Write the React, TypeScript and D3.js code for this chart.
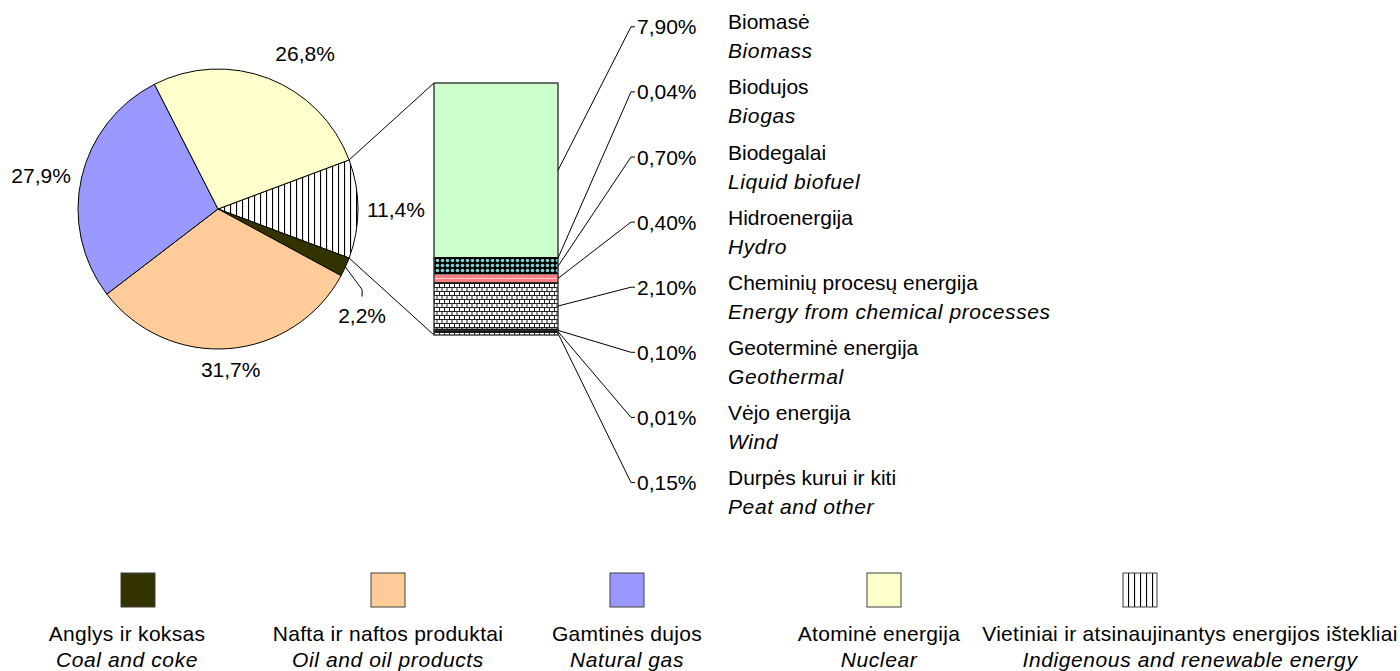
import React from 'react';
import * as d3 from 'd3';

// ---- Data ----
const mainCategories = ['Anglys ir koksas', 'Nafta ir naftos produktai', 'Gamtinės dujos', 'Atominė energija', 'Vietiniai ir atsinaujinantys energijos ištekliai'];
const mainCategoriesEn = ['Coal and coke', 'Oil and oil products', 'Natural gas', 'Nuclear', 'Indigenous and renewable energy'];
const mainValues = [2.2, 31.7, 27.9, 26.8, 11.4];
const mainLabels = ['2,2%', '31,7%', '27,9%', '26,8%', '11,4%'];

const subCategories = ['Biomasė', 'Biodujos', 'Biodegalai', 'Hidroenergija', 'Cheminių procesų energija', 'Geoterminė energija', 'Vėjo energija', 'Durpės kurui ir kiti'];
const subCategoriesEn = ['Biomass', 'Biogas', 'Liquid biofuel', 'Hydro', 'Energy from chemical processes', 'Geothermal', 'Wind', 'Peat and other'];
const subValues = [7.9, 0.04, 0.7, 0.4, 2.1, 0.1, 0.01, 0.15];
const subLabels = ['7,90%', '0,04%', '0,70%', '0,40%', '2,10%', '0,10%', '0,01%', '0,15%'];

// ---- Styles / layout ----
const mainFills = ['#333300', '#FFCC99', '#9999FF', '#FFFFCC', 'url(#pVlines)'];
const subFills = ['#CCFFCC', '#222222', 'url(#pDots)', 'url(#pStripes)', 'url(#pBrick)', '#333333', '#000000', 'url(#pGrid)'];
const labelAngleNudge = [12, 0, -2, 8, 0]; // degrees, per main slice
const labelRadialExtra = [5, 0, 0, 6, 0];
const legendBoxCenters = [138, 388, 627, 884, 1140];
const legendTextCenters = [127, 388, 627, 879, 1190];

const W = 1400, H = 671;
const FONT = "'Liberation Sans', Arial, sans-serif";
const FS = 21;
const cx = 218, cy = 209, R = 140;
const barX0 = 434, barX1 = 558, barTop = 83, barBottom = 335;
const pctX = 637, nameX = 728;

let _ctx: CanvasRenderingContext2D | null = null;
function textWidth(t: string, size = FS) {
  if (!_ctx) _ctx = document.createElement('canvas').getContext('2d');
  if (!_ctx) return t.length * size * 0.55;
  _ctx.font = `${size}px ${FONT}`;
  return _ctx.measureText(t).width;
}

export default function App() {
  const order = [4, 0, 1, 2, 3];
  const total = d3.sum(mainValues);
  const start = Math.PI / 2 - (mainValues[4] / total) * Math.PI;
  const pie = d3.pie<number>().sort(null).value((i) => mainValues[i]).startAngle(start).endAngle(start + 2 * Math.PI);
  const arcs = pie(order);
  const arc = d3.arc<d3.PieArcDatum<number>>().innerRadius(0).outerRadius(R);

  const polar = (ang: number, rad: number): [number, number] => [cx + Math.sin(ang) * rad, cy - Math.cos(ang) * rad];

  const renewArc = arcs[0];
  const cornerTop = polar(renewArc.startAngle, R);
  const cornerBot = polar(renewArc.endAngle, R);

  const subTotal = d3.sum(subValues);
  const y = d3.scaleLinear().domain([0, subTotal]).range([barTop, barBottom]);
  const cum = d3.cumsum(subValues);
  const segs = subValues.map((v, i) => ({ v, i, y0: y(cum[i] - v), y1: y(cum[i]) }));

  const nameY = d3.scalePoint<string>().domain(subCategories).range([29.3, 485]);

  return (
    <svg width={W} height={H} style={{ position: 'absolute', left: 0, top: 0, background: '#fff' }} fontFamily={FONT} fontSize={FS}>
      <defs>
        <pattern id="pVlines" patternUnits="userSpaceOnUse" width={6} height={10}>
          <rect width={6} height={10} fill="#fff" />
          <rect x={0} y={0} width={1.1} height={10} fill="#000" />
        </pattern>
        <pattern id="pDots" patternUnits="userSpaceOnUse" width={5} height={5} y={barTop}>
          <rect width={5} height={5} fill="#000" />
          <circle cx={2.5} cy={2.5} r={1.8} fill="#7FD0D0" />
        </pattern>
        <pattern id="pStripes" patternUnits="userSpaceOnUse" width={4} height={4} y={barTop}>
          <rect width={4} height={4} fill="#FF7C80" />
          <rect y={3} width={4} height={1} fill="#FFD0D0" />
        </pattern>
        <pattern id="pBrick" patternUnits="userSpaceOnUse" width={5} height={8} x={barX0} y={barTop}>
          <rect width={5} height={8} fill="#fff" />
          <rect x={0} y={0} width={5} height={1} fill="#222" />
          <rect x={0} y={4} width={5} height={1} fill="#222" />
          <rect x={0} y={0} width={1} height={4} fill="#222" />
          <rect x={2.5} y={4} width={1} height={4} fill="#222" />
        </pattern>
        <pattern id="pGrid" patternUnits="userSpaceOnUse" width={5} height={3} x={barX0} y={barTop}>
          <rect width={5} height={3} fill="#fff" />
          <rect x={0} y={0} width={5} height={1} fill="#222" />
          <rect x={0} y={0} width={1} height={3} fill="#222" />
        </pattern>
      </defs>

      {/* pie slices */}
      <g transform={`translate(${cx},${cy})`}>
        {arcs.map((a) => (
          <path key={a.data} d={arc(a) || ''} fill={mainFills[a.data]} stroke="#000" strokeWidth={1} />
        ))}
      </g>

      {/* pie labels */}
      {arcs.map((a) => {
        const idx = a.data;
        const mid = (a.startAngle + a.endAngle) / 2;
        const ang = mid + (labelAngleNudge[idx] * Math.PI) / 180;
        const w = textWidth(mainLabels[idx]);
        const h = 20;
        const rad = R + 9 + Math.abs(Math.sin(ang)) * (w / 2) + Math.abs(Math.cos(ang)) * (h / 2) + labelRadialExtra[idx];
        const [lx, ly] = polar(ang, rad);
        const hasLeader = labelAngleNudge[idx] > 10;
        const p0 = polar(mid, R);
        return (
          <g key={'l' + idx}>
            {hasLeader && (
              <polyline points={`${p0[0]},${p0[1]} ${lx},${ly - 26} ${lx},${ly - 19}`} fill="none" stroke="#000" strokeWidth={1} />
            )}
            <text x={lx} y={ly} dy="0.36em" textAnchor="middle" fill="#000">{mainLabels[idx]}</text>
          </g>
        );
      })}

      {/* connector lines pie -> bar */}
      <line x1={cornerTop[0]} y1={cornerTop[1]} x2={barX0} y2={barTop} stroke="#000" strokeWidth={1} />
      <line x1={cornerBot[0]} y1={cornerBot[1]} x2={barX0} y2={barBottom} stroke="#000" strokeWidth={1} />

      {/* bar segments */}
      {segs.map((s) => (
        <rect key={'s' + s.i} x={barX0} y={s.y0} width={barX1 - barX0} height={Math.max(s.y1 - s.y0, 0.3)} fill={subFills[s.i]} stroke="#000" strokeWidth={0.9} />
      ))}
      <rect x={barX0} y={barTop} width={barX1 - barX0} height={barBottom - barTop} fill="none" stroke="#555" strokeWidth={1} />

      {/* bar labels and leaders */}
      {segs.map((s) => {
        const nb = nameY(subCategories[s.i]) as number;
        const pb = nb + 5;
        const pc = pb - 7.5;
        const my = (s.y0 + s.y1) / 2;
        return (
          <g key={'bl' + s.i}>
            <polyline points={`${barX1},${my} ${pctX - 6},${pc} ${pctX - 2},${pc}`} fill="none" stroke="#000" strokeWidth={1} />
            <text x={pctX} y={pb} fill="#000">{subLabels[s.i]}</text>
            <text x={nameX} y={nb} fill="#000">{subCategories[s.i]}</text>
            <text x={nameX} y={nb + 29} fill="#000" fontStyle="italic" letterSpacing={0.6}>{subCategoriesEn[s.i]}</text>
          </g>
        );
      })}

      {/* legend */}
      {mainCategories.map((c, i) => (
        <g key={'lg' + i}>
          <rect x={legendBoxCenters[i] - 17} y={573} width={34} height={34} fill={mainFills[i]} stroke="#404040" strokeWidth={1} />
          <text x={legendTextCenters[i]} y={641} textAnchor="middle" fill="#000" letterSpacing={0.3}>{c}</text>
          <text x={legendTextCenters[i]} y={667} textAnchor="middle" fill="#000" fontStyle="italic" letterSpacing={0.6}>{mainCategoriesEn[i]}</text>
        </g>
      ))}
    </svg>
  );
}
